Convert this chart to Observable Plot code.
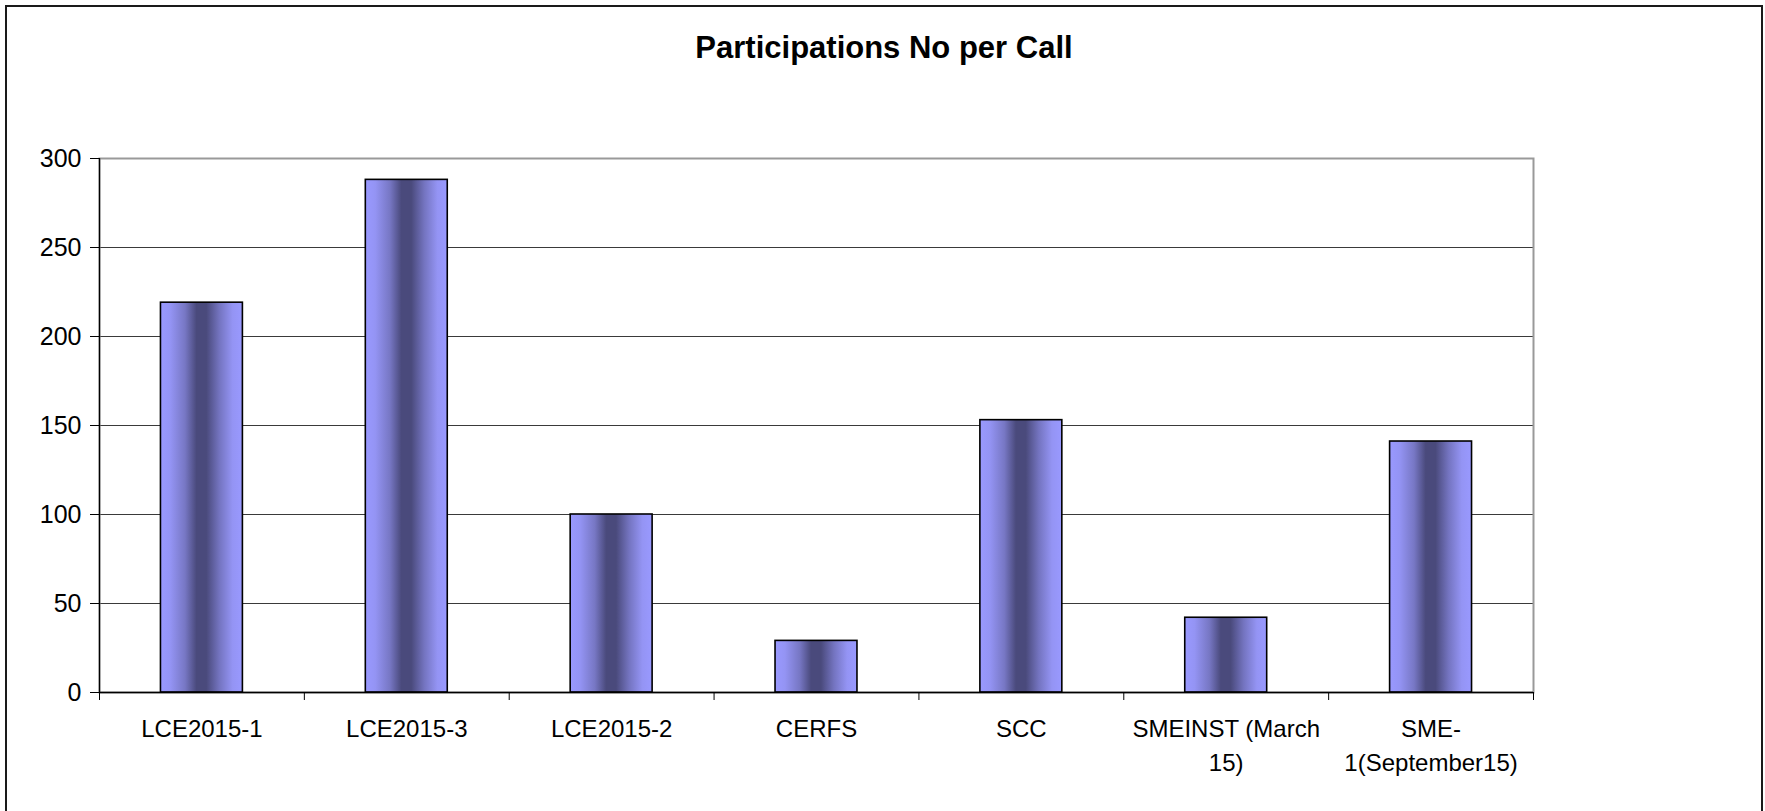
<!DOCTYPE html>
<html>
<head>
<meta charset="utf-8">
<script src="https://cdn.jsdelivr.net/npm/d3@7"></script>
<script src="https://cdn.jsdelivr.net/npm/@observablehq/plot@0.6"></script>
<style>
  html, body { margin: 0; padding: 0; background: #fff; }
  body { width: 1765px; height: 811px; position: relative; overflow: hidden; font-family: "Liberation Sans", Arial, sans-serif; }
  #frame { position: absolute; left: 5px; top: 5px; width: 1758px; height: 900px; box-sizing: border-box; border: 2px solid #1a1a1a; background: transparent; z-index: 5; pointer-events: none; }
  #title { position: absolute; left: 0; top: 30px; width: 1768px; text-align: center; font-weight: bold; font-size: 31px; line-height: 36px; color: #000; }
  #chart { position: absolute; left: 0; top: 110px; }
</style>
</head>
<body>
<div id="frame"></div>
<div id="title">Participations No per Call</div>
<div id="chart"></div>
<script>
const categories = ["LCE2015-1", "LCE2015-3", "LCE2015-2", "CERFS", "SCC", "SMEINST (March 15)", "SME-1(September15)"];
const tickLabels = ["LCE2015-1", "LCE2015-3", "LCE2015-2", "CERFS", "SCC", "SMEINST (March\n15)", "SME-\n1(September15)"];
const values = [219, 288, 100, 29, 153, 42, 141];
const yTicks = [0, 50, 100, 150, 200, 250, 300];

const data = categories.map((c, i) => ({category: c, index: i, value: values[i]}));
const centers = categories.map((_, i) => i);
const boundaries = [-0.5, ...categories.map((_, i) => i + 0.5)];
const halfBar = 0.2; // bar = 40% of category width (gap 150%)

const plot = Plot.plot({
  width: 1765,
  height: 682,
  marginLeft: 99,
  marginRight: 232,
  marginTop: 48,
  marginBottom: 100,
  style: {fontFamily: "'Liberation Sans', Arial, sans-serif", color: "#000", background: "transparent", overflow: "visible"},
  x: {type: "linear", domain: [-0.5, categories.length - 0.5]},
  y: {domain: [0, 300]},
  marks: [
    Plot.ruleY(yTicks, {stroke: "#3a3a3a", strokeWidth: 1}),
    Plot.frame({stroke: "#999", strokeWidth: 2}),
    Plot.rectY(data, {
      x1: d => d.index - halfBar,
      x2: d => d.index + halfBar,
      y1: 0,
      y2: "value",
      fill: "url(#barGrad)",
      stroke: "#000",
      strokeWidth: 1.6
    }),
    Plot.ruleY([0], {stroke: "#000", strokeWidth: 1.3}),
    Plot.ruleX([-0.5], {stroke: "#000", strokeWidth: 1.3}),
    Plot.axisY({ticks: yTicks, tickSize: 9, tickPadding: 9, fontSize: 25, stroke: "#000", label: null}),
    Plot.axisX({ticks: boundaries, tickSize: 8, tickFormat: () => "", stroke: "#000", label: null}),
    Plot.axisX({ticks: centers, tickSize: 0, tickPadding: 21, fontSize: 24, lineHeight: 1.4, tickFormat: i => tickLabels[i], label: null})
  ]
});

const ns = "http://www.w3.org/2000/svg";
const defs = document.createElementNS(ns, "defs");
defs.innerHTML = `
  <linearGradient id="barGrad" x1="0" x2="1" y1="0" y2="0">
    <stop offset="0" stop-color="#9999ff"/>
    <stop offset="0.12" stop-color="#9494f4"/>
    <stop offset="0.30" stop-color="#7777c4"/>
    <stop offset="0.44" stop-color="#4a4a7c"/>
    <stop offset="0.56" stop-color="#4a4a7c"/>
    <stop offset="0.72" stop-color="#7474c0"/>
    <stop offset="0.88" stop-color="#9494f4"/>
    <stop offset="1" stop-color="#9999ff"/>
  </linearGradient>`;
plot.insertBefore(defs, plot.firstChild);

document.getElementById("chart").appendChild(plot);
</script>
</body>
</html>
